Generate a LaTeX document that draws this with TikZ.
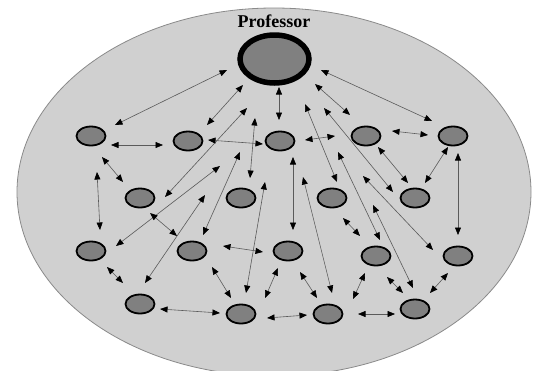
\documentclass[tikz,border=0pt]{standalone}
\usepackage{fontspec}
\setmainfont{Liberation Serif}
\usetikzlibrary{arrows.meta,shapes.geometric,calc}
\definecolor{nodegray}{HTML}{808080}
\definecolor{bggray}{HTML}{D0D0D0}
\definecolor{rimgray}{HTML}{8A8A8A}
\definecolor{linegray}{HTML}{5A5A5A}
\tikzset{
  pnode/.style={ellipse, draw=black, line width=1.8pt, fill=nodegray,
    minimum width=29pt, minimum height=19pt, inner sep=0pt},
  profnode/.style={ellipse, draw=black, line width=5.5pt, fill=nodegray,
    minimum width=69pt, minimum height=48pt, inner sep=0pt},
  arr/.style={draw=linegray, line width=0.6pt,
    {Triangle[length=7.5pt,width=6pt,color=black]}-{Triangle[length=7.5pt,width=6pt,color=black]}},
  lbl/.style={font=\fontsize{18}{20}\selectfont\bfseries, inner sep=0pt}
}
\begin{document}
\begin{tikzpicture}[x=1pt,y=-1pt]
\useasboundingbox (0,0) rectangle (538,370);
% class area
\filldraw[fill=bggray, draw=rimgray, line width=0.8pt] (274,192) ellipse [x radius=257pt, y radius=184pt];
% professor
\node[profnode] (P) at (274.5,59) {};
\node[lbl] (PL) at (274,21) {Professor};
% students
\node[pnode] (A1) at (91,136) {};
\node[pnode] (A2) at (188,141) {};
\node[pnode] (A3) at (280,141) {};
\node[pnode] (A4) at (366,136) {};
\node[pnode] (A5) at (453,136) {};
\node[pnode] (B1) at (140,198) {};
\node[pnode] (B2) at (241,198) {};
\node[pnode] (B3) at (332,198) {};
\node[pnode] (B4) at (415,198) {};
\node[pnode] (C1) at (91,251) {};
\node[pnode] (C2) at (192,251) {};
\node[pnode] (C3) at (288,251) {};
\node[pnode] (C4) at (376,256) {};
\node[pnode] (C5) at (458,256) {};
\node[pnode] (D1) at (140,304) {};
\node[pnode] (D2) at (241,314) {};
\node[pnode] (D3) at (328,314) {};
\node[pnode] (D4) at (415,309) {};
% professor links
\draw[arr] ($(P)+(-47.5,11)$) -- ($(A1)+(24,-11)$);
\draw[arr] ($(P)+(-31.5,26)$) -- ($(A2)+(19,-16)$);
\draw[arr] ($(P)+(-27.5,49)$) -- ($(B1)+(25,-1)$);
\draw[arr] ($(P)+(4.5,28)$) -- ($(A3)+(-1,-21)$);
\draw[arr] ($(P)+(46.5,11)$) -- ($(A5)+(-21,-15)$);
\draw[arr] ($(P)+(40.5,25)$) -- ($(A4)+(-16,-21)$);
\draw[arr] ($(P)+(30.5,45)$) -- ($(B3)+(5,-16)$);
\draw[arr] ($(P)+(49.5,49)$) -- ($(B4)+(-22,-6)$);
\draw[arr] ($(P)+(-19.5,59)$) -- ($(B2)+(9,-20)$);
\draw[arr] ($(P)+(63.5,93)$) -- ($(C4)+(4,-16)$);
% student links
\draw[arr] ($(A1)+(20,9)$) -- ($(A2)+(-25,4)$);
\draw[arr] ($(A2)+(20,-1)$) -- ($(A3)+(-17,3)$);
\draw[arr] ($(A1)+(11,21)$) -- ($(B1)+(-17,-16)$);
\draw[arr] ($(A1)+(6,36)$) -- ($(C1)+(9,-21)$);
\draw[arr] ($(A3)+(-60,25)$) -- ($(C1)+(25,-5)$);
\draw[arr] ($(A3)+(-40,11)$) -- ($(C2)+(11,-16)$);
\draw[arr] ($(A3)+(-15,41)$) -- ($(D2)+(5,-21)$);
\draw[arr] ($(A3)+(13,16)$) -- ($(C3)+(5,-21)$);
\draw[arr] ($(B1)+(10,15)$) -- ($(C2)+(-15,-15)$);
\draw[arr] ($(B2)+(-36,-3)$) -- ($(D1)+(5,-21)$);
\draw[arr] ($(C1)+(16,16)$) -- ($(D1)+(-17,-21)$);
\draw[arr] ($(D1)+(20,5)$) -- ($(D2)+(-21,-1)$);
\draw[arr] ($(C2)+(20,16)$) -- ($(D2)+(-10,-16)$);
\draw[arr] ($(C2)+(31,-5)$) -- ($(C3)+(-25,1)$);
\draw[arr] ($(C3)+(-10,17)$) -- ($(D2)+(24,-16)$);
\draw[arr] ($(D2)+(26,4)$) -- ($(D3)+(-21,1)$);
\draw[arr] ($(A3)+(25,-1)$) -- ($(A4)+(-31,0)$);
\draw[arr] ($(A4)+(26,-5)$) -- ($(A5)+(-25,-1)$);
\draw[arr] ($(A4)+(12,11)$) -- ($(B4)+(-7,-15)$);
\draw[arr] ($(A5)+(-5,11)$) -- ($(B4)+(10,-15)$);
\draw[arr] ($(A5)+(5,17)$) -- ($(C5)+(0,-21)$);
\draw[arr] ($(A3)+(23,36)$) -- ($(D3)+(4,-21)$);
\draw[arr] ($(A4)+(-3,40)$) -- ($(C5)+(-25,-6)$);
\draw[arr] ($(A4)+(7,69)$) -- ($(D4)+(-2,-21)$);
\draw[arr] ($(B3)+(11,20)$) -- ($(C4)+(-16,-20)$);
\draw[arr] ($(C3)+(12,21)$) -- ($(D3)+(-11,-16)$);
\draw[arr] ($(C4)+(-11,17)$) -- ($(D3)+(25,-15)$);
\draw[arr] ($(C4)+(11,21)$) -- ($(D4)+(-12,-16)$);
\draw[arr] ($(C5)+(-10,17)$) -- ($(D4)+(15,-16)$);
\draw[arr] ($(D3)+(30,0)$) -- ($(D4)+(-20,5)$);
\end{tikzpicture}
\end{document}
